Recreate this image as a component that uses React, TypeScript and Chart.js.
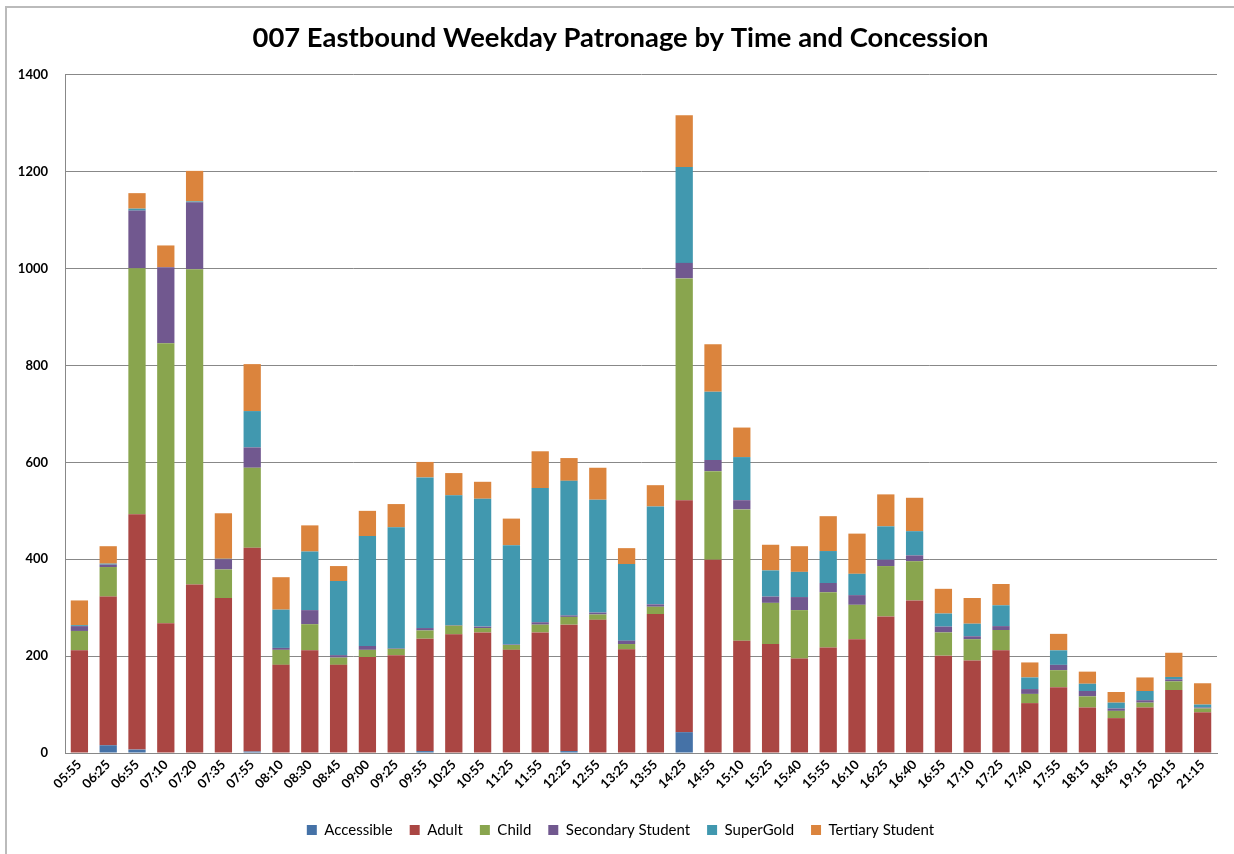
import React, { useEffect, useRef } from "react";
import { Chart, registerables } from "chart.js";

Chart.register(...registerables);

const labels = ["05:55","06:25","06:55","07:10","07:20","07:35","07:55","08:10","08:30","08:45","09:00","09:25","09:55","10:25","10:55","11:25","11:55","12:25","12:55","13:25","13:55","14:25","14:55","15:10","15:25","15:40","15:55","16:10","16:25","16:40","16:55","17:10","17:25","17:40","17:55","18:15","18:45","19:15","20:15","21:15"];

const accessible = [0,16,7,0,0,0,3,0,1,0,0,0,4,0,0,0,0,4,0,0,0,43,0,0,0,0,0,0,0,1,0,0,0,0,0,0,0,0,0,0];
const adult = [212,307,486,268,348,320,421,182,211,182,198,202,232,245,249,213,249,261,275,214,287,479,399,232,225,195,218,235,282,314,201,191,212,103,136,94,72,94,130,84];
const child = [40,61,508,578,651,59,165,31,54,15,15,13,17,18,9,10,16,16,11,11,15,458,183,271,85,100,114,71,104,81,48,44,42,19,35,23,15,10,18,8];
const secondary = [10,5,119,157,138,21,42,4,29,5,8,1,5,1,3,1,5,3,4,7,5,32,23,19,13,27,19,20,13,12,12,6,8,10,11,11,5,5,4,2];
const supergold = [2,2,4,0,2,1,75,79,121,153,227,250,311,268,264,205,277,278,233,158,202,198,141,89,54,52,66,44,69,50,27,26,43,24,30,15,12,19,5,6];
const tertiary = [51,36,32,45,63,94,97,67,54,31,52,48,32,46,35,55,76,47,66,33,44,107,98,61,53,53,72,83,66,69,51,53,44,31,34,25,22,28,50,44];

const seriesNames = ["Accessible", "Adult", "Child", "Secondary Student", "SuperGold", "Tertiary Student"];
const seriesColors = ["#4572A7", "#AA4643", "#89A54E", "#71588F", "#4198AF", "#DB843D"];
const yTicks = [0, 200, 400, 600, 800, 1000, 1200, 1400];

const FONT = "Lato, 'Open Sans', sans-serif";

export default function App() {
  const ref = useRef<HTMLCanvasElement | null>(null);

  useEffect(() => {
    document.body.style.margin = "0";
    const canvas = ref.current;
    if (!canvas) return;
    const values = [accessible, adult, child, secondary, supergold, tertiary];
    const chart = new Chart(canvas, {
      type: "bar",
      data: {
        labels,
        datasets: values.map((v, i) => ({
          label: seriesNames[i],
          data: v,
          backgroundColor: seriesColors[i],
          borderWidth: 0,
          barPercentage: 0.6,
          categoryPercentage: 1.0,
        })),
      },
      options: {
        responsive: false,
        animation: false,
        devicePixelRatio: 1,
        layout: { padding: { left: 0, right: 0, top: 0, bottom: 6.5 } },
        plugins: {
          title: {
            display: true,
            text: "007 Eastbound Weekday Patronage by Time and Concession",
            color: "#000",
            font: { family: FONT, size: 27.4, weight: "bold" },
            padding: { top: 21.6, bottom: 20.5 },
          },
          legend: {
            position: "bottom",
            labels: {
              color: "#000",
              font: { family: FONT, size: 15 },
              boxWidth: 10,
              boxHeight: 10,
              padding: 17,
            },
          },
          tooltip: { enabled: false },
        },
        scales: {
          x: {
            stacked: true,
            grid: { display: false, drawTicks: false },
            border: { display: true, color: "#888", width: 1 },
            ticks: {
              autoSkip: false,
              minRotation: 45,
              maxRotation: 45,
              color: "#000",
              padding: 4,
              font: { family: FONT, size: 13, weight: "bold" },
            },
            afterFit: (s: any) => {
              s.height = 52.5;
            },
          },
          y: {
            stacked: true,
            min: 0,
            max: 1400,
            afterBuildTicks: (s: any) => {
              s.ticks = yTicks.map((v) => ({ value: v }));
            },
            grid: { color: "#888", lineWidth: 1, drawTicks: false },
            border: { display: true, color: "#888", width: 1 },
            ticks: {
              color: "#000",
              padding: 17,
              font: { family: FONT, size: 13, weight: "bold" },
              callback: (v: any) => String(v),
            },
            afterFit: (s: any) => {
              s.width = 65;
            },
          },
          spacer: {
            type: "linear",
            position: "right",
            display: true,
            min: 0,
            max: 1400,
            grid: { display: false, drawTicks: false },
            border: { display: false },
            ticks: { display: false },
            afterFit: (s: any) => {
              s.width = 24;
            },
          },
        },
      },
    });
    return () => chart.destroy();
  }, []);

  return (
    <div style={{ position: "absolute", left: 0, top: 0, width: 1234, height: 854, background: "#fff", overflow: "hidden" }}>
      <div style={{ position: "absolute", left: 5, top: 6, width: 1229, height: 848, borderTop: "2px solid #bbb", borderLeft: "2px solid #bbb", boxSizing: "border-box" }} />
      <canvas ref={ref} width={1241} height={854} style={{ position: "absolute", left: 0, top: 0 }} />
    </div>
  );
}
